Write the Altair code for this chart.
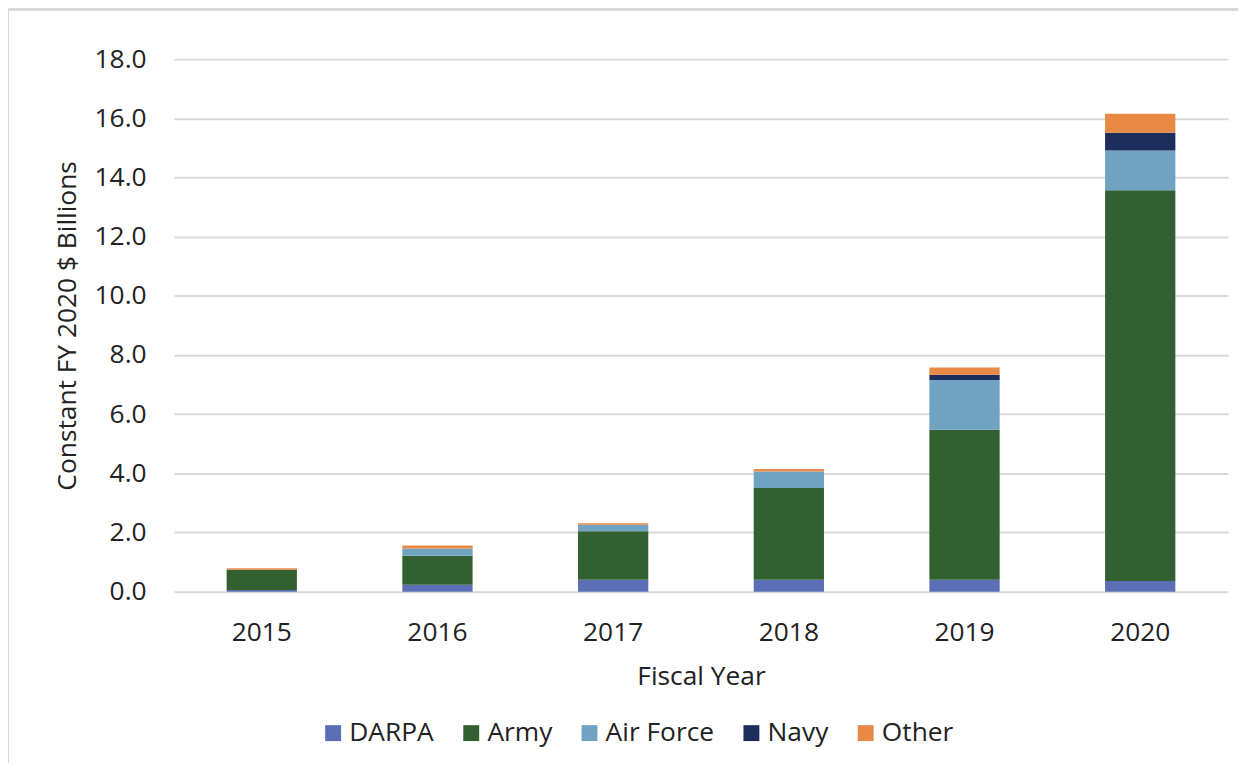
import altair as alt
import pandas as pd

years = ["2015", "2016", "2017", "2018", "2019", "2020"]
agencies = ["DARPA", "Army", "Air Force", "Navy", "Other"]
darpa = [0.06, 0.23, 0.40, 0.40, 0.40, 0.36]
army = [0.68, 0.98, 1.64, 3.10, 5.07, 13.21]
air_force = [0.00, 0.25, 0.22, 0.56, 1.68, 1.34]
navy = [0.00, 0.00, 0.00, 0.00, 0.18, 0.60]
other = [0.05, 0.10, 0.05, 0.09, 0.25, 0.64]
colors = ["#5a6fb5", "#336030", "#6fa3c1", "#1d2d5c", "#e88a45"]

series = [darpa, army, air_force, navy, other]
rows = []
for a_i, (name, vals) in enumerate(zip(agencies, series)):
    for y, v in zip(years, vals):
        rows.append({"Fiscal Year": y, "Agency": name, "Value": v, "order": a_i})
df = pd.DataFrame(rows)

FONT = "Open Sans"
FS = 26.5

bars = alt.Chart(df).mark_bar().encode(
    x=alt.X("Fiscal Year:N", sort=years,
            scale=alt.Scale(paddingInner=0.6, paddingOuter=0.3),
            axis=alt.Axis(title="Fiscal Year", labelAngle=0, ticks=False, domain=False,
                          labelPadding=28, titlePadding=18)),
    y=alt.Y("Value:Q", stack="zero",
            scale=alt.Scale(domain=[0, 18], nice=False),
            axis=alt.Axis(title="Constant FY 2020 $ Billions", values=list(range(0, 19, 2)),
                          format=".1f", ticks=False, domain=False, labelPadding=28,
                          titlePadding=13, gridColor="#d9d9d9", gridWidth=2)),
    color=alt.Color("Agency:N", sort=agencies,
                    scale=alt.Scale(domain=agencies, range=colors),
                    legend=alt.Legend(title=None, orient="none", direction="horizontal",
                                      legendX=147, legendY=665, symbolType="square",
                                      symbolSize=256, symbolStrokeWidth=0,
                                      labelFontSize=FS, labelFont=FONT, labelColor="#222222",
                                      labelOffset=3, columnPadding=24)),
    order=alt.Order("order:Q"),
)

frame_top = alt.Chart(df).mark_rule(color="#d9d9d9", strokeWidth=2).encode(
    x=alt.value(-167), x2=alt.value(1100), y=alt.value(-50))
frame_left = alt.Chart(df).mark_rule(color="#d9d9d9", strokeWidth=2).encode(
    x=alt.value(-167), y=alt.value(-50), y2=alt.value(720))

chart = alt.layer(bars, frame_top, frame_left).properties(
    width=1061, height=536,
    autosize=alt.AutoSizeParams(type="none"),
    padding={"left": 167, "top": 49, "right": 10, "bottom": 170},
    background="white",
).configure_view(stroke=None).configure_axis(
    labelFont=FONT, titleFont=FONT, labelFontSize=FS, titleFontSize=FS,
    labelColor="#222222", titleColor="#222222", titleFontWeight="normal",
)

chart.save("out.html", embed_options={"renderer": "svg", "actions": False})
